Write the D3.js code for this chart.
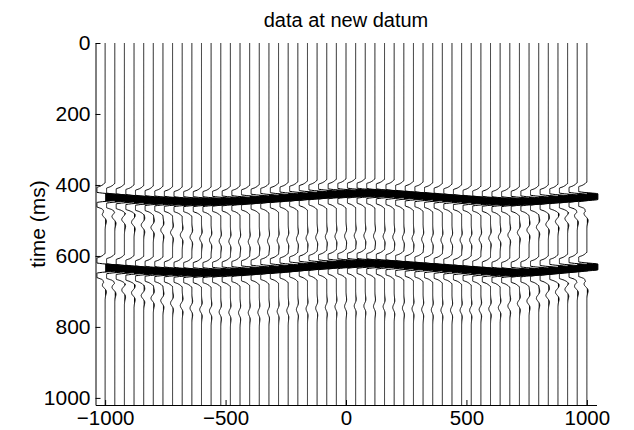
<!DOCTYPE html>
<html>
<head>
<meta charset="utf-8">
<script src="https://cdn.jsdelivr.net/npm/d3@7"></script>
<style>
  body { margin: 0; background: #fff; }
  svg { display: block; }
  text { font-family: "Liberation Sans", Arial, Helvetica, sans-serif; fill: #000; }
</style>
</head>
<body>
<div id="chart"></div>
<script>
  // receiver offsets (m)
  var offsets = [-1000, -960, -920, -880, -840, -800, -760, -720, -680, -640,
                 -600, -560, -520, -480, -440, -400, -360, -320, -280, -240,
                 -200, -160, -120, -80, -40, 0, 40, 80, 120, 160,
                 200, 240, 280, 320, 360, 400, 440, 480, 520, 560,
                 600, 640, 680, 720, 760, 800, 840, 880, 920, 960, 1000];

  // picked time of the first reflection (ms)
  var event1 = [435, 437, 439, 441, 443, 444, 445, 446, 447, 447,
                447, 447, 446, 445, 444, 442, 440, 438, 436, 434,
                432, 430, 428, 426, 425, 424, 423, 423, 424, 425,
                427, 429, 431, 433, 435, 437, 439, 441, 443, 445,
                446, 447, 447, 446, 445, 443, 441, 439, 437, 435, 433];

  // picked time of the second reflection (ms)
  var event2 = [634, 636, 638, 640, 642, 643, 644, 645, 646, 647,
                647, 647, 646, 645, 644, 642, 640, 638, 636, 634,
                631, 629, 627, 625, 623, 622, 621, 621, 622, 623,
                625, 627, 629, 631, 633, 635, 637, 639, 641, 643,
                645, 646, 647, 646, 645, 643, 641, 638, 636, 633, 631];

  // weak residual wiggle after each reflection: delay (ms) and relative amplitude
  var tailDelay = [48, 52, 58, 64, 70, 76, 82, 88, 94, 100,
                   104, 108, 112, 114, 116, 118, 119, 120, 120, 120,
                   120, 120, 120, 120, 120, 120, 120, 120, 120, 120,
                   120, 120, 120, 120, 119, 118, 116, 114, 112, 108,
                   104, 100, 94, 88, 82, 76, 70, 64, 58, 52, 48];
  var tailAmp = [-0.08, -0.078, -0.075, -0.072, -0.07, -0.066, -0.062, -0.058, -0.055, -0.052,
                 -0.05, -0.048, -0.046, -0.044, -0.042, -0.04, -0.04, -0.04, -0.04, -0.04,
                 -0.04, -0.04, -0.04, -0.04, -0.04, -0.04, -0.04, -0.04, -0.04, -0.04,
                 -0.04, -0.04, -0.04, -0.04, -0.04, -0.04, -0.042, -0.044, -0.046, -0.048,
                 -0.05, -0.052, -0.055, -0.058, -0.062, -0.066, -0.07, -0.072, -0.075, -0.078, -0.08];

  // source wavelet, one sample every 4 ms, centred on the peak
  var wavelet = [-0.021, -0.055, -0.124, -0.235, -0.365, -0.445, -0.372, -0.078, 0.384, 0.820,
                 1.000,
                 0.820, 0.384, -0.078, -0.372, -0.445, -0.365, -0.235, -0.124, -0.055, -0.021];

  var xTicks = [-1000, -500, 0, 500, 1000];
  var yTicks = [0, 200, 400, 600, 800, 1000];

  var width = 634, height = 430;
  var xTickFont = 20.5, yTickFont = 21, labelFont = 21, titleFont = 20;

  var x = d3.scaleLinear().domain([-1040, 1040]).range([95.5, 596.5]);
  var y = d3.scaleLinear().domain([0, 1020]).range([43, 405]);
  var gain = 150;     // offset units per unit of amplitude
  var clipPos = 46;   // max deflection to the right, offset units
  var clipNeg = 34;   // max deflection to the left

  var half = (wavelet.length - 1) / 2;
  function waveAt(dt) {
    var i = dt / 4 + half;
    if (i < 0 || i > wavelet.length - 1) return 0;
    var i0 = Math.floor(i), f = i - i0;
    var next = i0 < wavelet.length - 1 ? wavelet[i0 + 1] : 0;
    return wavelet[i0] * (1 - f) + next * f;
  }

  var times = d3.range(0, 1021, 1);

  var traces = offsets.map(function(off, k) {
    var samples = times.map(function(t) {
      var a = waveAt(t - event1[k]) + waveAt(t - event2[k]) +
              tailAmp[k] * waveAt(t - event1[k] - tailDelay[k]) +
              tailAmp[k] * waveAt(t - event2[k] - tailDelay[k]);
      var dx = Math.max(-clipNeg, Math.min(clipPos, gain * a));
      return { t: t, dx: dx };
    });
    return { off: off, samples: samples };
  });

  var svg = d3.select('#chart')
    .append('svg')
    .attr('width', width)
    .attr('height', height);

  // title
  svg.append('text')
    .attr('x', 346)
    .attr('y', 27)
    .style('text-anchor', 'middle')
    .style('font-size', titleFont + 'px')
    .text('data at new datum');

  // variable-area fill (positive lobes)
  svg.append('g').selectAll('path.fill')
    .data(traces)
    .enter().append('path')
    .attr('class', 'fill')
    .attr('fill', '#000')
    .attr('d', function(d) {
      return d3.area()
        .y(function(s) { return y(s.t); })
        .x0(x(d.off))
        .x1(function(s) { return x(d.off + Math.max(0, s.dx)); })(d.samples);
    });

  // wiggle lines
  svg.append('g').selectAll('path.wig')
    .data(traces)
    .enter().append('path')
    .attr('class', 'wig')
    .attr('fill', 'none')
    .attr('stroke', '#000')
    .attr('stroke-width', 1)
    .attr('d', function(d) {
      return d3.line()
        .x(function(s) { return x(d.off + s.dx); })
        .y(function(s) { return y(s.t); })(d.samples);
    });

  // axes (box off, ticks pointing in)
  var yAxis = d3.axisLeft(y).tickValues(yTicks).tickSize(-5).tickSizeOuter(0).tickPadding(5)
    .tickFormat(d3.format('d'));
  var xAxis = d3.axisBottom(x).tickValues(xTicks).tickSize(-5).tickSizeOuter(0).tickPadding(5.5)
    .tickFormat(d3.format('d'));

  var gy = svg.append('g')
    .attr('transform', 'translate(95.5,0)')
    .call(yAxis);
  var gx = svg.append('g')
    .attr('transform', 'translate(0,405)')
    .call(xAxis);

  gx.selectAll('text').style('font-size', xTickFont + 'px');
  gy.selectAll('text').style('font-size', yTickFont + 'px');
  [gx, gy].forEach(function(g) {
    g.selectAll('text')
      .style('font-family', '"Liberation Sans", Arial, Helvetica, sans-serif')
      .attr('fill', '#000');
    g.selectAll('line, path').attr('stroke', '#000');
  });

  // y label
  svg.append('text')
    .attr('transform', 'translate(45,224) rotate(-90)')
    .style('text-anchor', 'middle')
    .style('font-size', labelFont + 'px')
    .text('time (ms)');
</script>
</body>
</html>
